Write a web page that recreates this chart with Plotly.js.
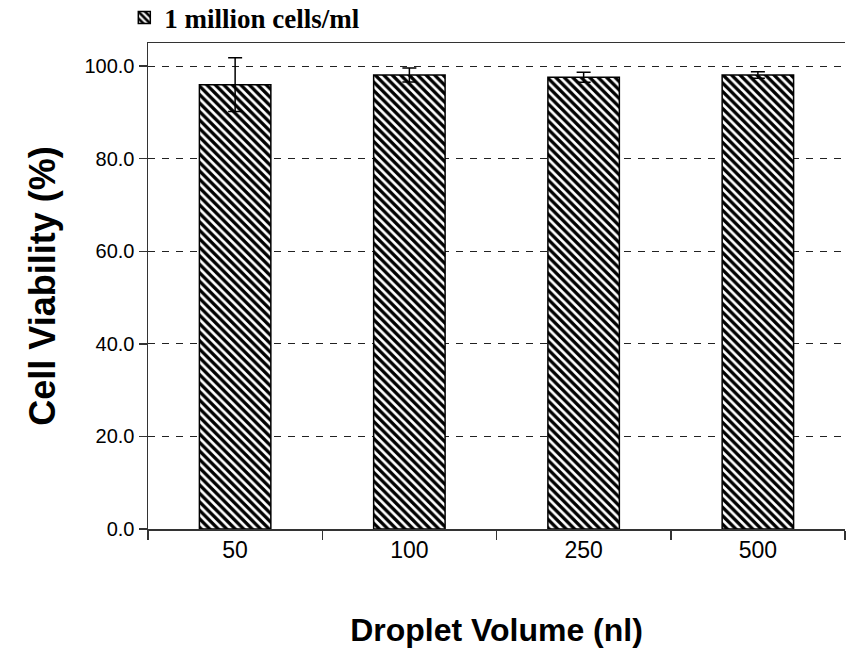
<!DOCTYPE html>
<html>
<head>
<meta charset="utf-8">
<script src="https://cdn.plot.ly/plotly-3.0.1.min.js"></script>
<style>html,body{margin:0;padding:0;background:#fff;}#chart{width:847px;height:648px;}</style>
</head>
<body>
<div id="chart"></div>
<script>
const categories = ["50", "100", "250", "500"];
const viability = [96.0, 98.1, 97.6, 98.1];
const errors = [5.8, 1.5, 1.1, 0.7];
const seriesName = "1 million cells/ml";
const xTitle = "Droplet Volume (nl)";
const yTitle = "Cell Viability (%)";

const trace = {
  type: "bar",
  x: categories,
  y: viability,
  name: seriesName,
  width: 0.41,
  marker: {
    color: "white",
    line: {color: "black", width: 1.5},
    pattern: {shape: "\\", fgcolor: "black", bgcolor: "white", size: 6, solidity: 0.55, fillmode: "replace"}
  },
  error_y: {type: "data", array: errors, visible: true, color: "black", thickness: 1.5, width: 7},
  showlegend: true
};

const layout = {
  width: 847, height: 648,
  margin: {l: 148, r: 2, t: 43, b: 119, autoexpand: false},
  paper_bgcolor: "white", plot_bgcolor: "white",
  showlegend: true,
  legend: {
    x: -0.034, xanchor: "left", y: 1.0514, yanchor: "middle",
    font: {family: "Liberation Serif, Times New Roman, serif", size: 27, color: "black", weight: "bold"},
    bgcolor: "rgba(0,0,0,0)", itemwidth: 30
  },
  xaxis: {
    type: "category",
    tickson: "boundaries",
    ticks: "outside", ticklen: 9, tickcolor: "#333", tickwidth: 1.5,
    showline: true, linecolor: "#333", linewidth: 1.5, mirror: true,
    showgrid: false,
    tickfont: {family: "Liberation Sans, Arial, sans-serif", size: 23, color: "black"},
    title: {text: xTitle, font: {family: "Liberation Sans, Arial, sans-serif", size: 32, color: "black", weight: "bold"}, standoff: 58}
  },
  yaxis: {
    range: [0, 105],
    tickvals: [0, 20, 40, 60, 80, 100],
    tickformat: ".1f",
    ticks: "outside", ticklen: 8, tickcolor: "#333", tickwidth: 1.5,
    showline: true, linecolor: "#333", linewidth: 1.5,
    showgrid: true, gridcolor: "#222", gridwidth: 1, griddash: "7px,7px",
    zeroline: false,
    tickfont: {family: "Liberation Sans, Arial, sans-serif", size: 20, color: "black"},
    title: {text: yTitle, font: {family: "Liberation Sans, Arial, sans-serif", size: 36, color: "black", weight: "bold"}, standoff: 18}
  }
};

Plotly.newPlot("chart", [trace], layout, {displayModeBar: false, staticPlot: true});
</script>
</body>
</html>
